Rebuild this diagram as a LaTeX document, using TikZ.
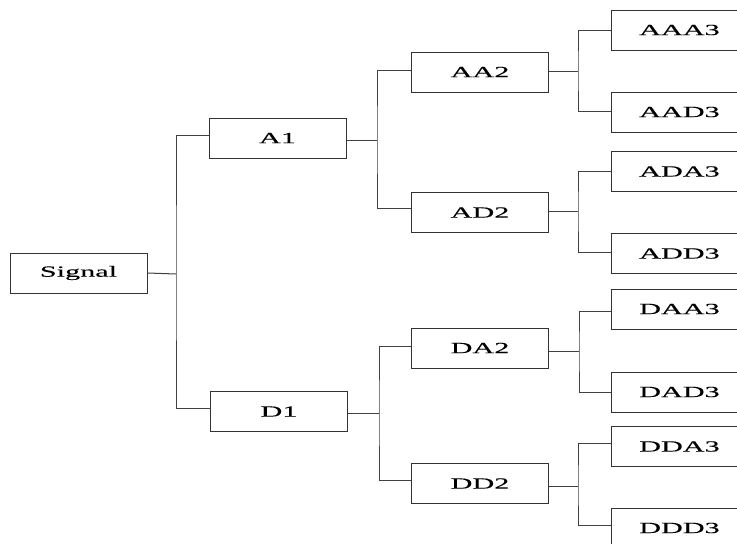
\documentclass[tikz,border=0pt]{standalone}
\usepackage{fontspec}
\setmainfont{Liberation Serif}[FakeStretch=1.95,FakeBold=0.2]
\begin{document}
\begin{tikzpicture}[x=1pt,y=-1pt,
  box/.style={draw=black!80,line width=1pt,minimum width=137pt,minimum height=40pt,inner sep=0pt,
    font=\fontsize{15.5}{18}\selectfont,text=black},
  link/.style={draw=black!75,line width=1pt}]
\clip (0,0) rectangle (737,544);
\fill[white] (0,0) rectangle (737,544);
% level 0 and 1
\node[box] (sig) at (78.5,273) {Signal};
\node[box] (a1) at (277.5,138) {A1};
\node[box] (d1) at (279,411.5) {D1};
% level 2
\node[box] (aa2) at (480,72) {AA2};
\node[box] (ad2) at (480,212.5) {AD2};
\node[box] (da2) at (480,348) {DA2};
\node[box] (dd2) at (480,483.5) {DD2};
% level 3
\node[box] (aaa3) at (679.5,30) {AAA3};
\node[box] (aad3) at (679.5,112) {AAD3};
\node[box] (ada3) at (679.5,171.5) {ADA3};
\node[box] (add3) at (679.5,253.5) {ADD3};
\node[box] (daa3) at (679.5,309) {DAA3};
\node[box] (dad3) at (679.5,392) {DAD3};
\node[box] (dda3) at (679.5,446.5) {DDA3};
\node[box] (ddd3) at (679.5,528) {DDD3};
% junctions
\coordinate (j0) at (176,274);
\coordinate (ja) at (377,140);
\coordinate (jd) at (379,413);
\coordinate (jaa) at (578,71);
\coordinate (jad) at (578,211);
\coordinate (jda) at (579,351);
\coordinate (jdd) at (578,486);
% connectors
\draw[link] (sig.east) -- (j0);
\draw[link] ([yshift=3pt]a1.west) -| (j0) |- ([yshift=3.5pt]d1.west);
\draw[link] ([yshift=-2pt]a1.east) -- (ja);
\draw[link] ([yshift=2pt]aa2.west) -| (ja) |- ([yshift=4.5pt]ad2.west);
\draw[link] ([yshift=-1.5pt]d1.east) -- (jd);
\draw[link] ([yshift=2pt]da2.west) -| (jd) |- ([yshift=3.5pt]dd2.west);
\draw[link] ([yshift=1pt]aa2.east) -- (jaa);
\draw[link] (aaa3.west) -| (jaa) |- ([yshift=1pt]aad3.west);
\draw[link] ([yshift=1.5pt]ad2.east) -- (jad);
\draw[link] (ada3.west) -| (jad) |- ([yshift=1.5pt]add3.west);
\draw[link] ([yshift=-3pt]da2.east) -- (jda);
\draw[link] ([yshift=-2pt]daa3.west) -| (jda) |- (dad3.west);
\draw[link] ([yshift=-2.5pt]dd2.east) -- (jdd);
\draw[link] ([yshift=3.5pt]dda3.west) -| (jdd) |- ([yshift=3pt]ddd3.west);
\end{tikzpicture}
\end{document}
